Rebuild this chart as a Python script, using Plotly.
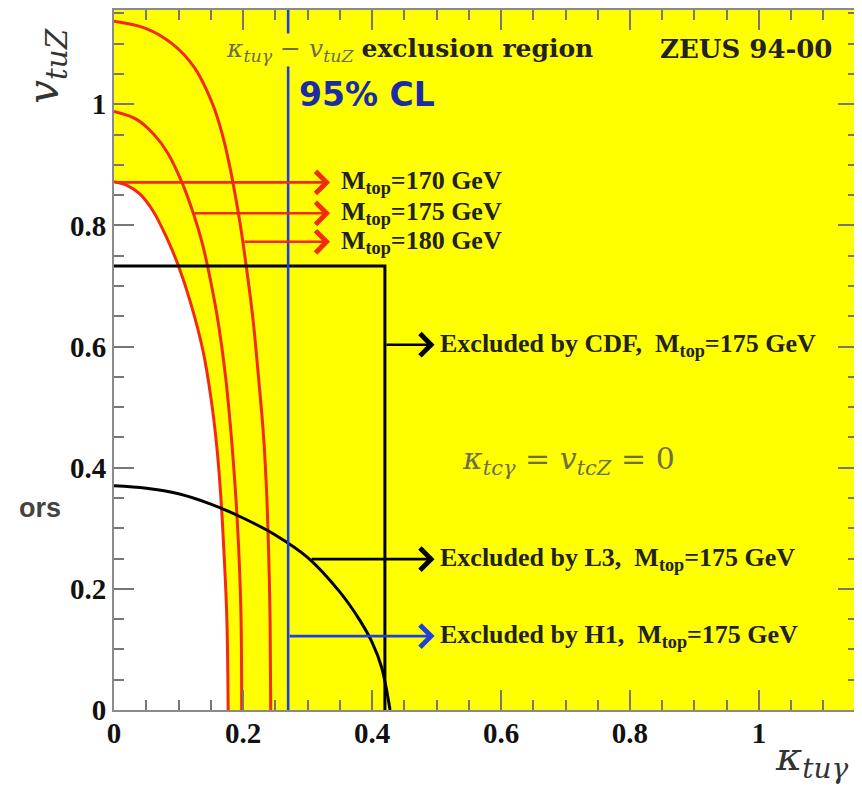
import plotly.graph_objects as go

# ---- data ----
m170_x = [0.0, 0.020, 0.040, 0.061, 0.082, 0.100, 0.118, 0.138, 0.151, 0.160, 0.166, 0.171, 0.175, 0.177]
m170_y = [0.872, 0.866, 0.852, 0.823, 0.779, 0.733, 0.675, 0.593, 0.510, 0.428, 0.346, 0.250, 0.150, 0.0]

m175_x = [0.0, 0.035, 0.062, 0.083, 0.105, 0.123, 0.136, 0.145, 0.160, 0.173, 0.182, 0.189, 0.194, 0.197, 0.198]
m175_y = [0.988, 0.975, 0.950, 0.920, 0.872, 0.820, 0.774, 0.733, 0.650, 0.550, 0.450, 0.350, 0.250, 0.150, 0.0]

m180_x = [0.0, 0.050, 0.090, 0.125, 0.153, 0.168, 0.179, 0.188, 0.196, 0.205, 0.215, 0.224, 0.232, 0.237, 0.240, 0.242, 0.243]
m180_y = [1.137, 1.125, 1.100, 1.060, 1.000, 0.950, 0.900, 0.850, 0.800, 0.733, 0.650, 0.550, 0.450, 0.350, 0.250, 0.150, 0.0]

l3_x = [0.0, 0.050, 0.100, 0.150, 0.200, 0.250, 0.300, 0.350, 0.380, 0.400, 0.415, 0.428]
l3_y = [0.370, 0.366, 0.357, 0.340, 0.317, 0.289, 0.252, 0.195, 0.150, 0.112, 0.070, 0.0]

cdf_x = [0.0, 0.420, 0.420]
cdf_y = [0.733, 0.733, 0.0]

h1_x = [0.270, 0.270]
h1_y = [0.0, 1.16]

# arrows: (tail x, y, head x)
red_arrows = [(0.0, 0.871, 0.335), (0.123, 0.820, 0.335), (0.200, 0.773, 0.335)]
red_labels = ["170", "175", "180"]
black_arrows = [(0.420, 0.603, 0.497), (0.304, 0.249, 0.497)]
blue_arrows = [(0.270, 0.122, 0.497)]
exp_labels = ["Excluded by CDF,  M<sub>top</sub>=175 GeV",
              "Excluded by L3,  M<sub>top</sub>=175 GeV",
              "Excluded by H1,  M<sub>top</sub>=175 GeV"]

x_ticks = [0, 0.2, 0.4, 0.6, 0.8, 1]
x_ticklabels = ["0", "0.2", "0.4", "0.6", "0.8", "1"]
y_ticks = [0, 0.2, 0.4, 0.6, 0.8, 1]
y_ticklabels = ["0", "0.2", "0.4", "0.6", "0.8", "1"]

RED = "#f42a0c"
BLUE = "#1f3fe0"
BLACK = "#000000"
SERIF = "Liberation Serif"
WIDE = "DejaVu Serif"
GRAYTXT = "#6e6e4a"

fig = go.Figure()

# M=170 curve; the allowed region between it and the vertical axis is white
fig.add_trace(go.Scatter(x=m170_x, y=m170_y, mode="lines",
                         line=dict(color=RED, width=3, shape="spline", smoothing=1.0),
                         fill="tozerox", fillcolor="white", hoverinfo="skip", showlegend=False))

for xs, ys in [(m175_x, m175_y), (m180_x, m180_y)]:
    fig.add_trace(go.Scatter(x=xs, y=ys, mode="lines",
                             line=dict(color=RED, width=3, shape="spline", smoothing=1.0),
                             showlegend=False, hoverinfo="skip"))

fig.add_trace(go.Scatter(x=l3_x, y=l3_y, mode="lines",
                         line=dict(color=BLACK, width=3, shape="spline", smoothing=1.0),
                         showlegend=False, hoverinfo="skip"))
fig.add_trace(go.Scatter(x=cdf_x, y=cdf_y, mode="lines",
                         line=dict(color=BLACK, width=3), showlegend=False, hoverinfo="skip"))
fig.add_trace(go.Scatter(x=h1_x, y=h1_y, mode="lines",
                         line=dict(color=BLUE, width=2.6), showlegend=False, hoverinfo="skip"))

ann = []
def arrow(x0, y, x1, color):
    ann.append(dict(x=x1, y=y, ax=x0, ay=y, xref="x", yref="y", axref="x", ayref="y",
                    text="", showarrow=True, arrowhead=4, arrowsize=1.65, arrowwidth=2.6,
                    arrowcolor=color, standoff=0, startstandoff=0))

for (x0, y, x1), lab in zip(red_arrows, red_labels):
    arrow(x0, y, x1, RED)
    ann.append(dict(x=0.349, y=y, xref="x", yref="y", xanchor="left", yanchor="middle",
                    text="<b>M<sub>top</sub>=" + lab + " GeV</b>", showarrow=False,
                    font=dict(family=SERIF, size=26, color="#222222")))
for (x0, y, x1) in black_arrows:
    arrow(x0, y, x1, BLACK)
for (x0, y, x1) in blue_arrows:
    arrow(x0, y, x1, BLUE)
for (a, lab) in zip(black_arrows + blue_arrows, exp_labels):
    ann.append(dict(x=0.502, y=a[1], xref="x", yref="y", xanchor="left", yanchor="middle",
                    text="<b>" + lab + "</b>", showarrow=False,
                    font=dict(family=SERIF, size=26, color="#222222")))

ann.append(dict(x=0.172, y=1.090, xref="x", yref="y", xanchor="left", yanchor="middle",
                text=("<span style='color:%s'><i>κ</i><sub><i>tuγ</i></sub> − "
                      "<i>v</i><sub><i>tuZ</i></sub></span> <b>exclusion region</b>") % GRAYTXT,
                showarrow=False, bgcolor="#ffff00", borderpad=0,
                font=dict(family=WIDE, size=25, color="#222222")))
ann.append(dict(x=0.980, y=1.091, xref="x", yref="y", xanchor="center", yanchor="middle",
                text="<b>ZEUS 94-00</b>", showarrow=False,
                font=dict(family=WIDE, size=26, color="#222222")))
ann.append(dict(x=0.283, y=1.016, xref="x", yref="y", xanchor="left", yanchor="middle",
                text="<b>95% CL</b>", showarrow=False,
                font=dict(family="DejaVu Sans", size=33, color="#1a2aa8")))
ann.append(dict(x=0.536, y=0.412, xref="x", yref="y", xanchor="left", yanchor="middle",
                text="<i>κ</i><sub><i>tcγ</i></sub> = <i>v</i><sub><i>tcZ</i></sub> = 0",
                showarrow=False, font=dict(family=WIDE, size=30, color=GRAYTXT)))
# axis titles
ann.append(dict(x=0.938, y=-0.070, xref="paper", yref="paper", xanchor="center", yanchor="middle",
                text="<i>κ</i><sub><i>tuγ</i></sub>", showarrow=False,
                font=dict(family=WIDE, size=40, color="#333333")))
ann.append(dict(x=-0.090, y=0.919, xref="paper", yref="paper", xanchor="center", yanchor="middle",
                text="<i>v</i><sub><i>tuZ</i></sub>", showarrow=False, textangle=-90,
                font=dict(family=WIDE, size=42, color="#333333")))
ann.append(dict(x=-0.0995, y=0.289, xref="paper", yref="paper", xanchor="center", yanchor="middle",
                text="<b>ors</b>", showarrow=False,
                font=dict(family="Liberation Sans", size=27, color="#444444")))

axis_common = dict(showline=True, linecolor="#8a8a8a", linewidth=2, mirror="ticks",
                   ticks="inside", ticklen=20, tickwidth=2, tickcolor="#777777",
                   showgrid=False, zeroline=False,
                   tickfont=dict(family=SERIF, size=29, color="#111111", weight="bold"),
                   minor=dict(ticks="inside", ticklen=10, tickwidth=2, tickcolor="#777777",
                              dtick=0.05, showgrid=False))

# the page body has an 8px margin, so the figure is offset by 8px
fig.update_layout(
    width=854, height=778,
    margin=dict(l=106, r=4, t=0, b=76),
    paper_bgcolor="white", plot_bgcolor="#ffff00",
    showlegend=False,
    xaxis=dict(range=[0, 1.1535], tickvals=x_ticks, ticktext=x_ticklabels,
               ticklabelstandoff=-4, **axis_common),
    yaxis=dict(range=[0, 1.1556], tickvals=y_ticks, ticktext=y_ticklabels,
               ticklabelstandoff=0, **axis_common),
    annotations=ann,
)

fig.write_html("out.html")
